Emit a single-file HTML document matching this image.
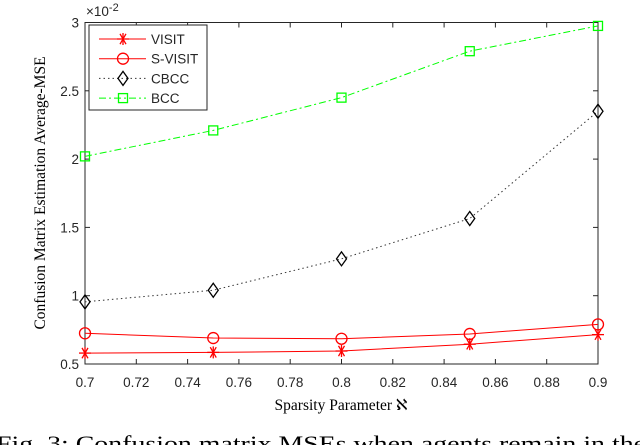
<!DOCTYPE html>
<html><head><meta charset="utf-8"><style>
html,body{margin:0;padding:0;background:#fff;width:640px;height:445px;overflow:hidden}
svg{display:block}
.t{font-family:"Liberation Sans",sans-serif;font-size:13.5px;fill:#262626}
.s{font-family:"Liberation Serif",serif;fill:#000}
</style></head><body>
<svg id="c" width="640" height="445"></svg>
<script>
const xValues=[0.7,0.75,0.8,0.85,0.9];
const visit=[0.58,0.585,0.595,0.645,0.715];
const sVisit=[0.725,0.69,0.685,0.72,0.79];
const cbcc=[0.955,1.04,1.27,1.565,2.35];
const bcc=[2.02,2.21,2.45,2.79,2.975];
const xTicks=[0.7,0.72,0.74,0.76,0.78,0.8,0.82,0.84,0.86,0.88,0.9];
const yTicks=[0.5,1,1.5,2,2.5,3];
const L=85,R=598,T=22.5,B=364;
const sx=v=>L+(v-0.7)/(0.2)*(R-L);
const sy=v=>B-(v-0.5)/2.5*(B-T);
const svg=document.getElementById('c');
const NS='http://www.w3.org/2000/svg';
function mk(tag,attrs,parent){const e=document.createElementNS(NS,tag);for(const k in attrs)e.setAttribute(k,attrs[k]);(parent||svg).appendChild(e);return e;}
const box=mk('rect',{x:L,y:T,width:R-L,height:B-T,fill:'none',stroke:'#262626','stroke-width':1});


xTicks.forEach(v=>{const x=sx(v);
 mk('line',{x1:x,x2:x,y1:B,y2:B-5,stroke:'#262626'});mk('line',{x1:x,x2:x,y1:T,y2:T+5,stroke:'#262626'});
 const t=mk('text',{x:x,y:387,'text-anchor':'middle',class:'t'});t.textContent=String(v);
 
 });
yTicks.forEach(v=>{const y=sy(v);
 mk('line',{x1:L,x2:L+5,y1:y,y2:y,stroke:'#262626'});mk('line',{x1:R,x2:R-5,y1:y,y2:y,stroke:'#262626'});
 const t=mk('text',{x:79,y:y+5,'text-anchor':'end',class:'t'});t.textContent=String(v);
 
 });
const ex=mk('text',{x:86,y:16,class:'t'});ex.innerHTML='×10<tspan dy="-5" font-size="11">-2</tspan>';


function series(vals,color,dash,marker,name){
 const g=mk('g',{});
 
 
 const pts=vals.map((v,i)=>sx(xValues[i])+','+sy(v)).join(' ');
 mk('polyline',{points:pts,fill:'none',stroke:color,'stroke-width':1,'stroke-dasharray':dash},g);
 vals.forEach((v,i)=>drawMarker(g,marker,sx(xValues[i]),sy(v),color));
}
function drawMarker(g,m,x,y,c){
 if(m==='star'){for(const a of [0,60,120]){const r=a*Math.PI/180;mk('line',{x1:x-6*Math.cos(r),y1:y-6*Math.sin(r),x2:x+6*Math.cos(r),y2:y+6*Math.sin(r),stroke:c,'stroke-width':1.3},g);}mk('line',{x1:x,y1:y-6,x2:x,y2:y+6,stroke:c,'stroke-width':1.3},g);}
 else if(m==='circle')mk('circle',{cx:x,cy:y,r:5.5,fill:'none',stroke:c,'stroke-width':1.3},g);
 else if(m==='diamond')mk('polygon',{points:`${x},${y-7} ${x+5},${y} ${x},${y+7} ${x-5},${y}`,fill:'none',stroke:'#000','stroke-width':1.3},g);
 else if(m==='square')mk('rect',{x:x-4.5,y:y-4.5,width:9,height:9,fill:'none',stroke:c,'stroke-width':1.3},g);
}
series(bcc,'#00ff00','7 3 2 3','square','series-bcc');
series(cbcc,'#333','1.5 3','diamond','series-cbcc');
series(sVisit,'#ff0000','','circle','series-s-visit');
series(visit,'#ff0000','','star','series-visit');
const lg=mk('g',{});


mk('rect',{x:89,y:25,width:118,height:85,fill:'#fff',stroke:'#262626'},lg);
const entries=[['VISIT','#ff0000','','star'],['S-VISIT','#ff0000','','circle'],['CBCC','#333','1.5 3','diamond'],['BCC','#00ff00','7 3 2 3','square']];
entries.forEach((e,i)=>{const y=39+i*19.7;
 const eg=mk('g',{},lg);
 
 
 mk('line',{x1:99,x2:146,y1:y,y2:y,stroke:e[1],'stroke-dasharray':e[2]},eg);
 drawMarker(eg,e[3],123,y,e[1]);
 const t=mk('text',{x:151,y:y+5,class:'t'},eg);t.textContent=e[0];});
const xl=mk('text',{x:341,y:410,'text-anchor':'middle',class:'s','font-size':'15.5'});xl.textContent='Sparsity Parameter ℵ';


const yl=mk('text',{x:0,y:0,'text-anchor':'middle',class:'s','font-size':'15.5',transform:'translate(45,193) rotate(-90)'});yl.textContent='Confusion Matrix Estimation Average-MSE';


const cap=mk('text',{x:-4,y:451,class:'s','font-size':'22',textLength:'650',lengthAdjust:'spacingAndGlyphs'});cap.textContent='Fig. 3: Confusion matrix MSEs when agents remain in the';


</script>
</body></html>
